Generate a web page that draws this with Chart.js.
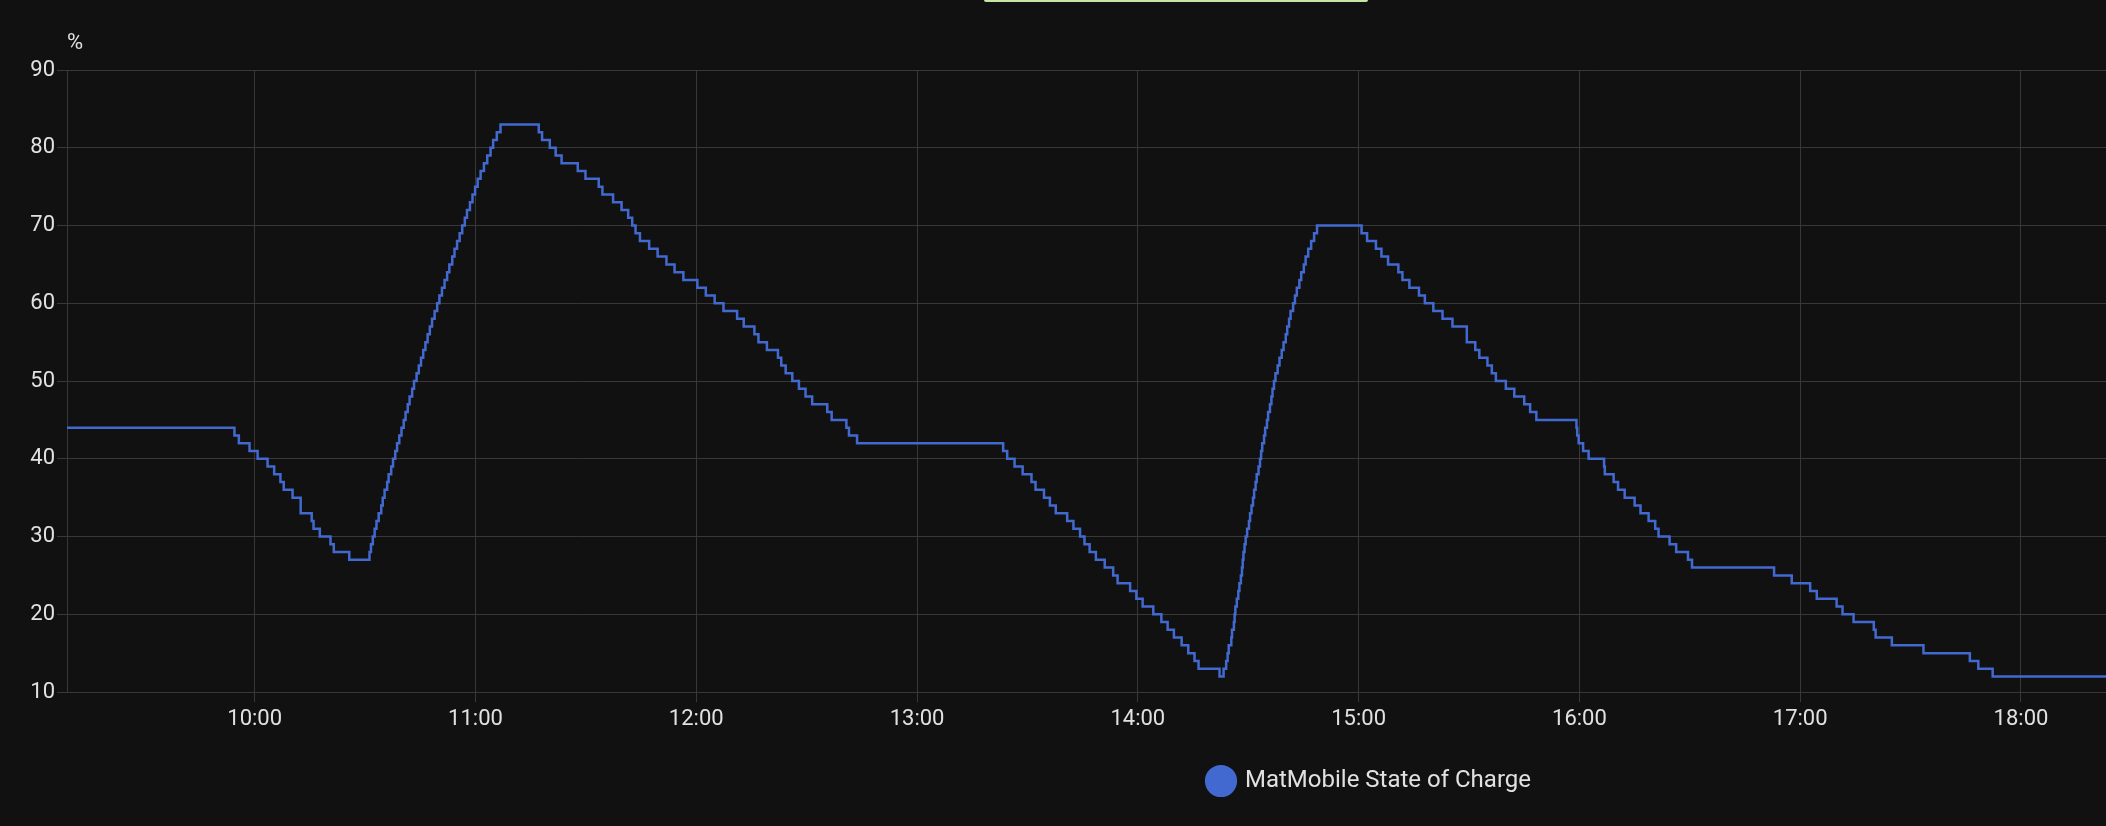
<!DOCTYPE html>
<html>
<head>
<meta charset="utf-8">
<title>MatMobile State of Charge</title>
<script src="https://cdn.jsdelivr.net/npm/chart.js@4/dist/chart.umd.min.js"></script>
<style>
  html, body { margin: 0; padding: 0; background: #111111; overflow: hidden; }
  #wrap { position: relative; width: 2106px; height: 826px; overflow: hidden; background: #111111; }
  #accent { position: absolute; left: 984px; top: 0; width: 384px; height: 2px; background: #c8e5a8; border-radius: 0 0 2px 2px; }
  canvas { display: block; }
</style>
</head>
<body>
<div id="wrap">
  <canvas id="chart" width="2106" height="826"></canvas>
  <div id="accent"></div>
</div>
<script>
// ---- data ----
const seriesName = 'MatMobile State of Charge';
const unitLabel = '%';

// time of each state change, minutes after midnight
const minuteOfDay = [
  540.0, 594.5, 595.7, 598.6, 600.8, 603.5, 605.3, 607.0, 607.9, 610.3,
  612.5, 615.5, 616.0, 617.7, 620.6, 621.5, 625.7,
  631.2, 631.6, 632.1, 632.6, 633.1, 633.7, 634.4, 634.8, 635.3, 636.0,
  636.4, 637.1, 637.6, 638.2, 638.7, 639.3, 639.9, 640.5, 641.0, 641.6,
  642.1, 642.8, 643.3, 644.0, 644.6, 645.2, 645.8, 646.4, 647.0, 647.6,
  648.2, 648.9, 649.6, 650.2, 650.9, 651.6, 652.3, 652.9, 653.7, 654.3,
  655.0, 655.7, 656.4, 657.1, 657.7, 658.5, 659.2, 659.9, 660.6, 661.4,
  662.3, 663.2, 664.1, 664.8, 665.8, 666.8,
  677.2, 678.1, 680.2, 681.8, 683.4, 687.8, 689.9, 693.5, 694.5, 697.4,
  699.7, 701.5, 702.6, 703.5, 704.7, 707.2, 709.5, 711.9, 714.1, 716.5,
  720.3, 722.6, 725.0, 727.4, 731.1, 732.9, 735.8, 736.9, 739.2, 742.2,
  743.1, 744.3, 746.1, 747.9, 749.7, 751.5, 755.6, 756.8, 760.8, 761.5,
  763.7,
  803.4, 804.5, 806.5, 808.7, 811.1, 812.2, 814.5, 816.1, 817.7, 820.8,
  822.5, 824.3, 825.5, 826.9, 828.6, 831.0, 833.3, 834.5, 837.9, 839.6,
  841.3, 844.2, 846.4, 848.1, 849.8, 851.9, 853.7, 855.4, 856.5, 862.2,
  863.3, 864.0, 864.4, 864.7, 865.4, 865.6, 866.1, 866.3, 866.5, 866.9,
  867.3, 867.6, 868.0, 868.3, 868.5, 868.7, 869.0, 869.3, 869.7, 870.2,
  870.5, 870.9, 871.3, 871.6, 872.0, 872.3, 872.8, 873.2, 873.5, 873.8,
  874.3, 874.6, 875.1, 875.4, 875.9, 876.3, 876.6, 877.0, 877.4, 878.0,
  878.5, 879.1, 879.6, 880.2, 880.6, 881.1, 881.5, 882.2, 882.7, 883.2,
  883.9, 884.4, 885.1, 885.6, 886.3, 887.1, 887.9, 888.7,
  900.8, 902.3, 904.7, 906.2, 908.0, 910.8, 911.9, 913.8, 916.4, 918.0,
  920.3, 922.8, 925.5, 929.4, 931.7, 932.8, 935.0, 936.2, 937.3, 940.0,
  942.3, 945.0, 946.6, 948.3, 959.2, 959.4, 959.8, 961.0, 962.5,
  966.7, 966.9, 969.3, 970.5, 972.3, 975.0, 976.6, 978.8, 980.6, 981.5,
  984.5, 986.3, 989.5, 990.6, 1012.9, 1017.7, 1022.7, 1024.5, 1029.9, 1031.5,
  1034.5, 1040.0, 1040.5, 1044.9, 1053.5, 1066.1, 1068.4, 1072.3, 1104.0
];

// state of charge (%) from that time on
const socPercent = [
  44, 43, 42, 41, 40, 39, 38, 37, 36, 35,
  33, 32, 31, 30, 29, 28, 27,
  28, 29, 30, 31, 32, 33, 34, 35, 36, 37,
  38, 39, 40, 41, 42, 43, 44, 45, 46, 47,
  48, 49, 50, 51, 52, 53, 54, 55, 56, 57,
  58, 59, 60, 61, 62, 63, 64, 65, 66, 67,
  68, 69, 70, 71, 72, 73, 74, 75, 76, 77,
  78, 79, 80, 81, 82, 83,
  82, 81, 80, 79, 78, 77, 76, 75, 74, 73,
  72, 71, 70, 69, 68, 67, 66, 65, 64, 63,
  62, 61, 60, 59, 58, 57, 56, 55, 54, 53,
  52, 51, 50, 49, 48, 47, 46, 45, 44, 43,
  42,
  41, 40, 39, 38, 37, 36, 35, 34, 33, 32,
  31, 30, 29, 28, 27, 26, 25, 24, 23, 22,
  21, 20, 19, 18, 17, 16, 15, 14, 13, 12,
  13, 14, 15, 16, 17, 18, 19, 20, 21, 22,
  23, 24, 25, 26, 27, 28, 29, 30, 31, 32,
  33, 34, 35, 36, 37, 38, 39, 40, 41, 42,
  43, 44, 45, 46, 47, 48, 49, 50, 51, 52,
  53, 54, 55, 56, 57, 58, 59, 60, 61, 62,
  63, 64, 65, 66, 67, 68, 69, 70,
  69, 68, 67, 66, 65, 64, 63, 62, 61, 60,
  59, 58, 57, 55, 54, 53, 52, 51, 50, 49,
  48, 47, 46, 45, 44, 43, 42, 41, 40,
  39, 38, 37, 36, 35, 34, 33, 32, 31, 30,
  29, 28, 27, 26, 25, 24, 23, 22, 21, 20,
  19, 18, 17, 16, 15, 14, 13, 12, 12
];

const xTickMinutes = [600, 660, 720, 780, 840, 900, 960, 1020, 1080];
const xTickLabels = ['10:00', '11:00', '12:00', '13:00', '14:00', '15:00', '16:00', '17:00', '18:00'];
const yTickValues = [10, 20, 30, 40, 50, 60, 70, 80, 90];

// ---- styling / layout ----
const TEXT = '#e1e1e1';
const GRID = '#383838';
const LINE = '#4269d0';
const X_MIN = 549.0, X_MAX = 1103.1;
const PLOT_BOTTOM = 692;
const X_AXIS_HEIGHT = 40.4;
const LEGEND_HEIGHT = 40;     // forced (smaller than natural height)
const LEGEND_PAD = 20;
const LEGEND_FONT = 24;
const LEGEND_CENTER_X = 1370;
const LEGEND_CENTER_Y = 781;

Chart.defaults.font.family = 'Roboto, "Noto Sans", sans-serif';

const legendPlace = {
  id: 'legendPlace',
  afterLayout(chart) {
    const l = chart.legend;
    if (!l) return;
    const dx = LEGEND_CENTER_X - (l.left + l.right) / 2;
    l.left += dx;
    l.right += dx;
    l.top = LEGEND_CENTER_Y - LEGEND_PAD - LEGEND_FONT / 2;
    l.bottom = l.top + LEGEND_PAD + LEGEND_FONT + 20;
    l.height = l.bottom - l.top;
  }
};

const points = minuteOfDay.map((m, i) => ({ x: m, y: socPercent[i] }));

new Chart(document.getElementById('chart'), {
  type: 'line',
  data: {
    datasets: [{
      label: seriesName,
      data: points,
      borderColor: LINE,
      backgroundColor: LINE,
      borderWidth: 2.5,
      pointRadius: 0,
      pointHoverRadius: 0,
      stepped: true,
      fill: false,
      clip: 0
    }]
  },
  options: {
    responsive: false,
    animation: false,
    devicePixelRatio: 1,
    layout: { padding: { left: 0, right: 0, top: 0, bottom: 826 - PLOT_BOTTOM - X_AXIS_HEIGHT - LEGEND_HEIGHT } },
    plugins: {
      title: {
        display: true,
        text: unitLabel,
        align: 'start',
        fullSize: false,
        color: TEXT,
        font: { size: 22, weight: 'normal', lineHeight: 1.2 },
        padding: { top: 30, bottom: 13.6 }
      },
      legend: {
        position: 'bottom',
        maxHeight: LEGEND_HEIGHT,
        labels: {
          color: TEXT,
          font: { size: LEGEND_FONT },
          usePointStyle: true,
          pointStyle: 'circle',
          boxHeight: 21,
          padding: LEGEND_PAD
        }
      },
      tooltip: { enabled: false }
    },
    scales: {
      x: {
        type: 'linear',
        min: X_MIN,
        max: X_MAX,
        afterBuildTicks: (ax) => { ax.ticks = xTickMinutes.map(v => ({ value: v })); },
        afterFit: (ax) => { ax.height = X_AXIS_HEIGHT; },
        ticks: {
          color: TEXT,
          font: { size: 22 },
          padding: 4,
          maxRotation: 0,
          autoSkip: false,
          callback: (v, i) => xTickLabels[i]
        },
        grid: { color: GRID, tickLength: 10 },
        border: { color: GRID }
      },
      y: {
        min: 10,
        max: 90,
        afterBuildTicks: (ax) => { ax.ticks = yTickValues.map(v => ({ value: v })); },
        afterFit: (ax) => { ax.width = 67; },
        ticks: { color: TEXT, font: { size: 22 }, padding: 2 },
        grid: { color: GRID, tickLength: 10 },
        border: { color: GRID }
      }
    }
  },
  plugins: [legendPlace]
});
</script>
</body>
</html>
